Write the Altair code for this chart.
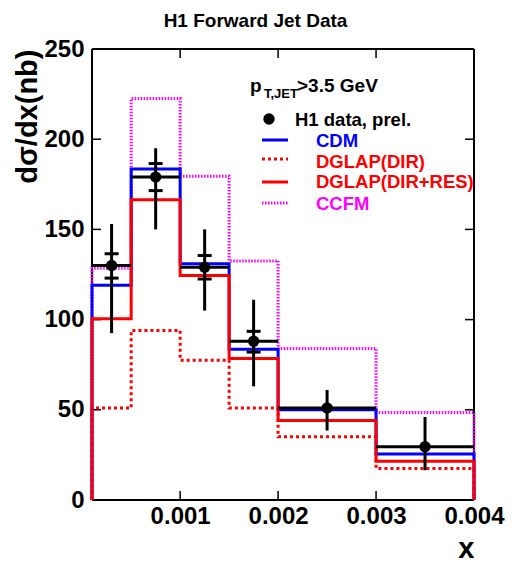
import altair as alt
import pandas as pd

# ---- data ----
bin_edges = [0.0001, 0.0005, 0.001, 0.0015, 0.002, 0.003, 0.004]
x_centers = [0.0003, 0.00075, 0.00125, 0.00175, 0.0025, 0.0035]
h1_y = [130, 179, 129, 88, 51, 29.5]
h1_tot_lo = [92.5, 150, 105, 63, 38.5, 16.5]
h1_tot_hi = [153, 195, 150, 111, 61, 46]
h1_stat_lo = [123, 171.5, 122.5, 82]
h1_stat_hi = [136.5, 186.5, 135.5, 93.5]
cdm = [119, 183.5, 131, 83.5, 50, 25.5]
dglap_dir = [51, 94, 77.5, 51, 35, 17.5]
dglap_res = [100.5, 166.5, 124.5, 78.5, 44, 21.5]
ccfm = [128.5, 222.5, 179.5, 132.5, 84, 48.5]
x_ticks = [0.001, 0.002, 0.003, 0.004]
y_ticks = [0, 50, 100, 150, 200, 250]
legend_labels = ["CDM", "DGLAP(DIR)", "DGLAP(DIR+RES)", "CCFM"]

W, H = 382, 451
FONT = "Liberation Sans"

xscale = alt.Scale(domain=[0.0001, 0.004], nice=False, zero=False)
yscale = alt.Scale(domain=[0, 250], nice=False, zero=False)

X_AX = alt.Axis(values=x_ticks, format=".3f", labelFont=FONT, labelFontWeight="bold",
                labelFontSize=24, labelColor="black", labelPadding=4, labelFlush=False,
                labelOverlap=False, ticks=False, tickSize=0, domain=False, grid=False,
                title="x", titleFont=FONT, titleFontWeight="bold", titleFontSize=29,
                titleColor="black", titleX=W, titleY=57, titleAlign="right",
                titleBaseline="alphabetic", titleAnchor="end")
Y_AX = alt.Axis(values=y_ticks, format="d", labelFont=FONT, labelFontWeight="bold",
                labelFontSize=24, labelColor="black", labelPadding=8, labelFlush=False,
                labelOverlap=False, ticks=False, tickSize=0, domain=False, grid=False,
                title="dσ/dx(nb)", titleFont=FONT, titleFontWeight="bold", titleFontSize=29,
                titleColor="black", titleX=-65, titleY=0, titleAlign="right",
                titleAngle=270, titleBaseline="middle", titleAnchor="end")


def step_df(vals):
    xs = [bin_edges[0]]
    ys = [0]
    for i, v in enumerate(vals):
        xs += [bin_edges[i], bin_edges[i + 1]]
        ys += [v, v]
    xs.append(bin_edges[-1])
    ys.append(0)
    return pd.DataFrame({"x": xs, "y": ys, "o": list(range(len(xs)))})


def hist(vals, color, dash=None):
    kw = dict(color=color, strokeWidth=3, clip=False)
    if dash:
        kw["strokeDash"] = dash
    return alt.Chart(step_df(vals)).mark_line(**kw).encode(
        x=alt.X("x:Q", scale=xscale, axis=X_AX),
        y=alt.Y("y:Q", scale=yscale, axis=Y_AX),
        order=alt.Order("o:Q"),
    )


layers = []

# frame
frame_df = pd.DataFrame({"a": [0]})
for enc in [dict(x=alt.value(0), x2=alt.value(W), y=alt.value(0)),
            dict(x=alt.value(0), x2=alt.value(W), y=alt.value(H)),
            dict(x=alt.value(0), y=alt.value(0), y2=alt.value(H)),
            dict(x=alt.value(W), y=alt.value(0), y2=alt.value(H))]:
    layers.append(alt.Chart(frame_df).mark_rule(color="black", strokeWidth=2).encode(**enc))

# inner ticks
ytick_df = pd.DataFrame({"v": y_ticks})
xtick_df = pd.DataFrame({"v": x_ticks})
layers.append(alt.Chart(ytick_df).mark_rule(color="black", strokeWidth=1.5).encode(
    y=alt.Y("v:Q", scale=yscale, axis=Y_AX), x=alt.value(0), x2=alt.value(9)))
layers.append(alt.Chart(ytick_df).mark_rule(color="black", strokeWidth=1.5).encode(
    y=alt.Y("v:Q", scale=yscale, axis=Y_AX), x=alt.value(W - 9), x2=alt.value(W)))
layers.append(alt.Chart(xtick_df).mark_rule(color="black", strokeWidth=1.5).encode(
    x=alt.X("v:Q", scale=xscale, axis=X_AX), y=alt.value(0), y2=alt.value(9)))
layers.append(alt.Chart(xtick_df).mark_rule(color="black", strokeWidth=1.5).encode(
    x=alt.X("v:Q", scale=xscale, axis=X_AX), y=alt.value(H - 9), y2=alt.value(H)))

# histograms
layers.append(hist(ccfm, "#ff00ff", [1.5, 1.5]))
layers.append(hist(dglap_dir, "#ff0000", [3, 3]))
layers.append(hist(cdm, "#0000ff"))
layers.append(hist(dglap_res, "#ff0000"))

# data
pts = pd.DataFrame({"xc": x_centers, "lo": bin_edges[:-1], "hi": bin_edges[1:],
                    "y": h1_y, "tlo": h1_tot_lo, "thi": h1_tot_hi})
stat = pd.DataFrame({"xc": x_centers[:4] * 2, "s": h1_stat_lo + h1_stat_hi})
layers.append(alt.Chart(pts).mark_rule(color="black", strokeWidth=3).encode(
    x=alt.X("lo:Q", scale=xscale, axis=X_AX), x2="hi:Q",
    y=alt.Y("y:Q", scale=yscale, axis=Y_AX)))
layers.append(alt.Chart(pts).mark_rule(color="black", strokeWidth=3).encode(
    x=alt.X("xc:Q", scale=xscale, axis=X_AX),
    y=alt.Y("tlo:Q", scale=yscale, axis=Y_AX), y2="thi:Q"))
layers.append(alt.Chart(stat).mark_tick(color="black", orient="horizontal", size=14,
                                        thickness=3, opacity=1).encode(
    x=alt.X("xc:Q", scale=xscale, axis=X_AX),
    y=alt.Y("s:Q", scale=yscale, axis=Y_AX)))
layers.append(alt.Chart(pts).mark_circle(color="black", size=130, opacity=1).encode(
    x=alt.X("xc:Q", scale=xscale, axis=X_AX),
    y=alt.Y("y:Q", scale=yscale, axis=Y_AX)))

# texts (title + legend)
one = pd.DataFrame({"a": [0]})


def txt(s, x, y, size, color="black", align="left"):
    return alt.Chart(one).mark_text(text=s, font=FONT, fontWeight="bold", fontSize=size,
                                    color=color, align=align, baseline="alphabetic").encode(
        x=alt.value(x), y=alt.value(y))


layers.append(txt("H1 Forward Jet Data", 163.5, -22, 19, align="center"))
layers.append(txt("p", 158, 43, 19))
layers.append(txt("T,JET", 172, 49, 13))
layers.append(txt(">3.5 GeV", 205, 43, 19))
layers.append(alt.Chart(one).mark_circle(color="black", size=130, opacity=1).encode(
    x=alt.value(177), y=alt.value(70)))
layers.append(txt("H1 data, prel.", 203, 77, 18.5))

leg_styles = [("#0000ff", None, 91, 97.7), ("#ff0000", [3, 3], 110, 119),
              ("#ff0000", None, 133, 138.7), ("#ff00ff", [1.5, 1.5], 154, 161)]
for lab, (col, dash, ly, ty) in zip(legend_labels, leg_styles):
    kw = dict(color=col, strokeWidth=3)
    if dash:
        kw["strokeDash"] = dash
    layers.append(alt.Chart(one).mark_rule(**kw).encode(
        x=alt.value(170), x2=alt.value(196), y=alt.value(ly)))
    layers.append(txt(lab, 224, ty, 18.5, color=col))

chart = alt.layer(*layers).properties(
    width=W, height=H,
    padding={"left": 84, "top": 41, "right": 32, "bottom": 63},
    autosize=alt.AutoSizeParams(type="none"),
).configure_view(stroke=None)

chart.save("out.html", embed_options={"renderer": "svg", "actions": False})
